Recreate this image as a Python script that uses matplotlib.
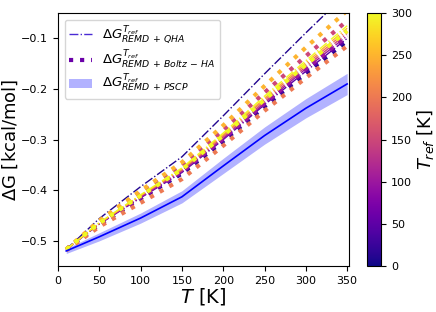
import matplotlib
matplotlib.use('Agg')
import matplotlib.pyplot as plt
import numpy as np

# temperatures (K)
T = [10, 50, 100, 150, 200, 250, 300, 350]

# reference temperatures and their curves
t_ref = [10, 50, 100, 150, 200, 250, 300]

qha = [
    [-0.517, -0.456, -0.393, -0.334, -0.253, -0.170, -0.089, -0.010],  # 10
    [-0.517, -0.467, -0.415, -0.365, -0.300, -0.231, -0.165, -0.100],  # 50
    [-0.517, -0.466, -0.414, -0.363, -0.298, -0.228, -0.160, -0.095],  # 100
    [-0.517, -0.466, -0.412, -0.361, -0.295, -0.225, -0.156, -0.090],  # 150
    [-0.517, -0.465, -0.411, -0.359, -0.292, -0.221, -0.152, -0.085],  # 200
    [-0.517, -0.465, -0.410, -0.358, -0.290, -0.218, -0.148, -0.080],  # 250
    [-0.517, -0.464, -0.409, -0.356, -0.287, -0.214, -0.144, -0.075],  # 300
]

boltz = [
    [-0.517, -0.468, -0.416, -0.367, -0.303, -0.235, -0.169, -0.105],  # 10
    [-0.517, -0.467, -0.415, -0.365, -0.300, -0.231, -0.165, -0.100],  # 50
    [-0.517, -0.466, -0.414, -0.363, -0.298, -0.228, -0.160, -0.095],  # 100
    [-0.517, -0.463, -0.406, -0.352, -0.282, -0.207, -0.135, -0.065],  # 150
    [-0.519, -0.472, -0.425, -0.378, -0.312, -0.243, -0.178, -0.115],  # 200
    [-0.517, -0.460, -0.401, -0.345, -0.272, -0.194, -0.118, -0.045],  # 250
    [-0.517, -0.465, -0.411, -0.359, -0.292, -0.221, -0.152, -0.085],  # 300
]

pscp = [-0.520, -0.492, -0.455, -0.413, -0.352, -0.292, -0.238, -0.190]
pscp_err = [0.005, 0.008, 0.010, 0.012, 0.015, 0.017, 0.019, 0.021]

cmap = plt.get_cmap('plasma')
norm = matplotlib.colors.Normalize(vmin=0, vmax=300)

fig = plt.figure(figsize=(4.36, 3.12), dpi=100)
ax = fig.add_axes([0.133, 0.147, 0.667, 0.811])
cax = fig.add_axes([0.842, 0.147, 0.032, 0.811])

T = np.array(T)
for i in range(len(t_ref)):
    c = cmap(norm(t_ref[i]))
    ax.plot(T, qha[i], '-.', color=c, lw=1)
    ax.plot(T, boltz[i], ':', color=c, lw=3)

pscp = np.array(pscp)
pscp_err = np.array(pscp_err)
ax.plot(T, pscp, '-', color='blue', lw=1.2)
ax.fill_between(T, pscp - pscp_err, pscp + pscp_err, color='blue', alpha=0.3, lw=0)

# legend handles
h1, = ax.plot([], [], '-.', color='#4a2bd4', lw=1)
h2, = ax.plot([], [], ':', color='#6a00a8', lw=3)
h3 = ax.fill_between([], [], [], color='blue', alpha=0.3, lw=0)
ax.legend([h1, h2, h3],
          [r'$\Delta G^{T_{ref}}_{REMD\,+\,QHA}$',
           r'$\Delta G^{T_{ref}}_{REMD\,+\,Boltz\,-\,HA}$',
           r'$\Delta G^{T_{ref}}_{REMD\,+\,PSCP}$'],
          loc='upper left', fontsize=9.5, labelspacing=0.2,
          handlelength=1.7, borderpad=0.35)

ax.set_xlim(0, 352)
ax.set_ylim(-0.55, -0.05)
ax.set_xticks([0, 50, 100, 150, 200, 250, 300, 350])
ax.set_yticks([-0.5, -0.4, -0.3, -0.2, -0.1])
ax.tick_params(labelsize=8)
ax.set_xlabel(r'$T$ [K]', fontsize=14, labelpad=0)
ax.set_ylabel(r'$\Delta$G [kcal/mol]', fontsize=13, labelpad=1)

sm = matplotlib.cm.ScalarMappable(norm=norm, cmap=cmap)
cb = fig.colorbar(sm, cax=cax)
cb.set_ticks([0, 50, 100, 150, 200, 250, 300])
cb.ax.tick_params(labelsize=8)
cb.set_label(r'$T_{ref}$ [K]', fontsize=13, labelpad=2)

fig.savefig('out.png', dpi=100)
